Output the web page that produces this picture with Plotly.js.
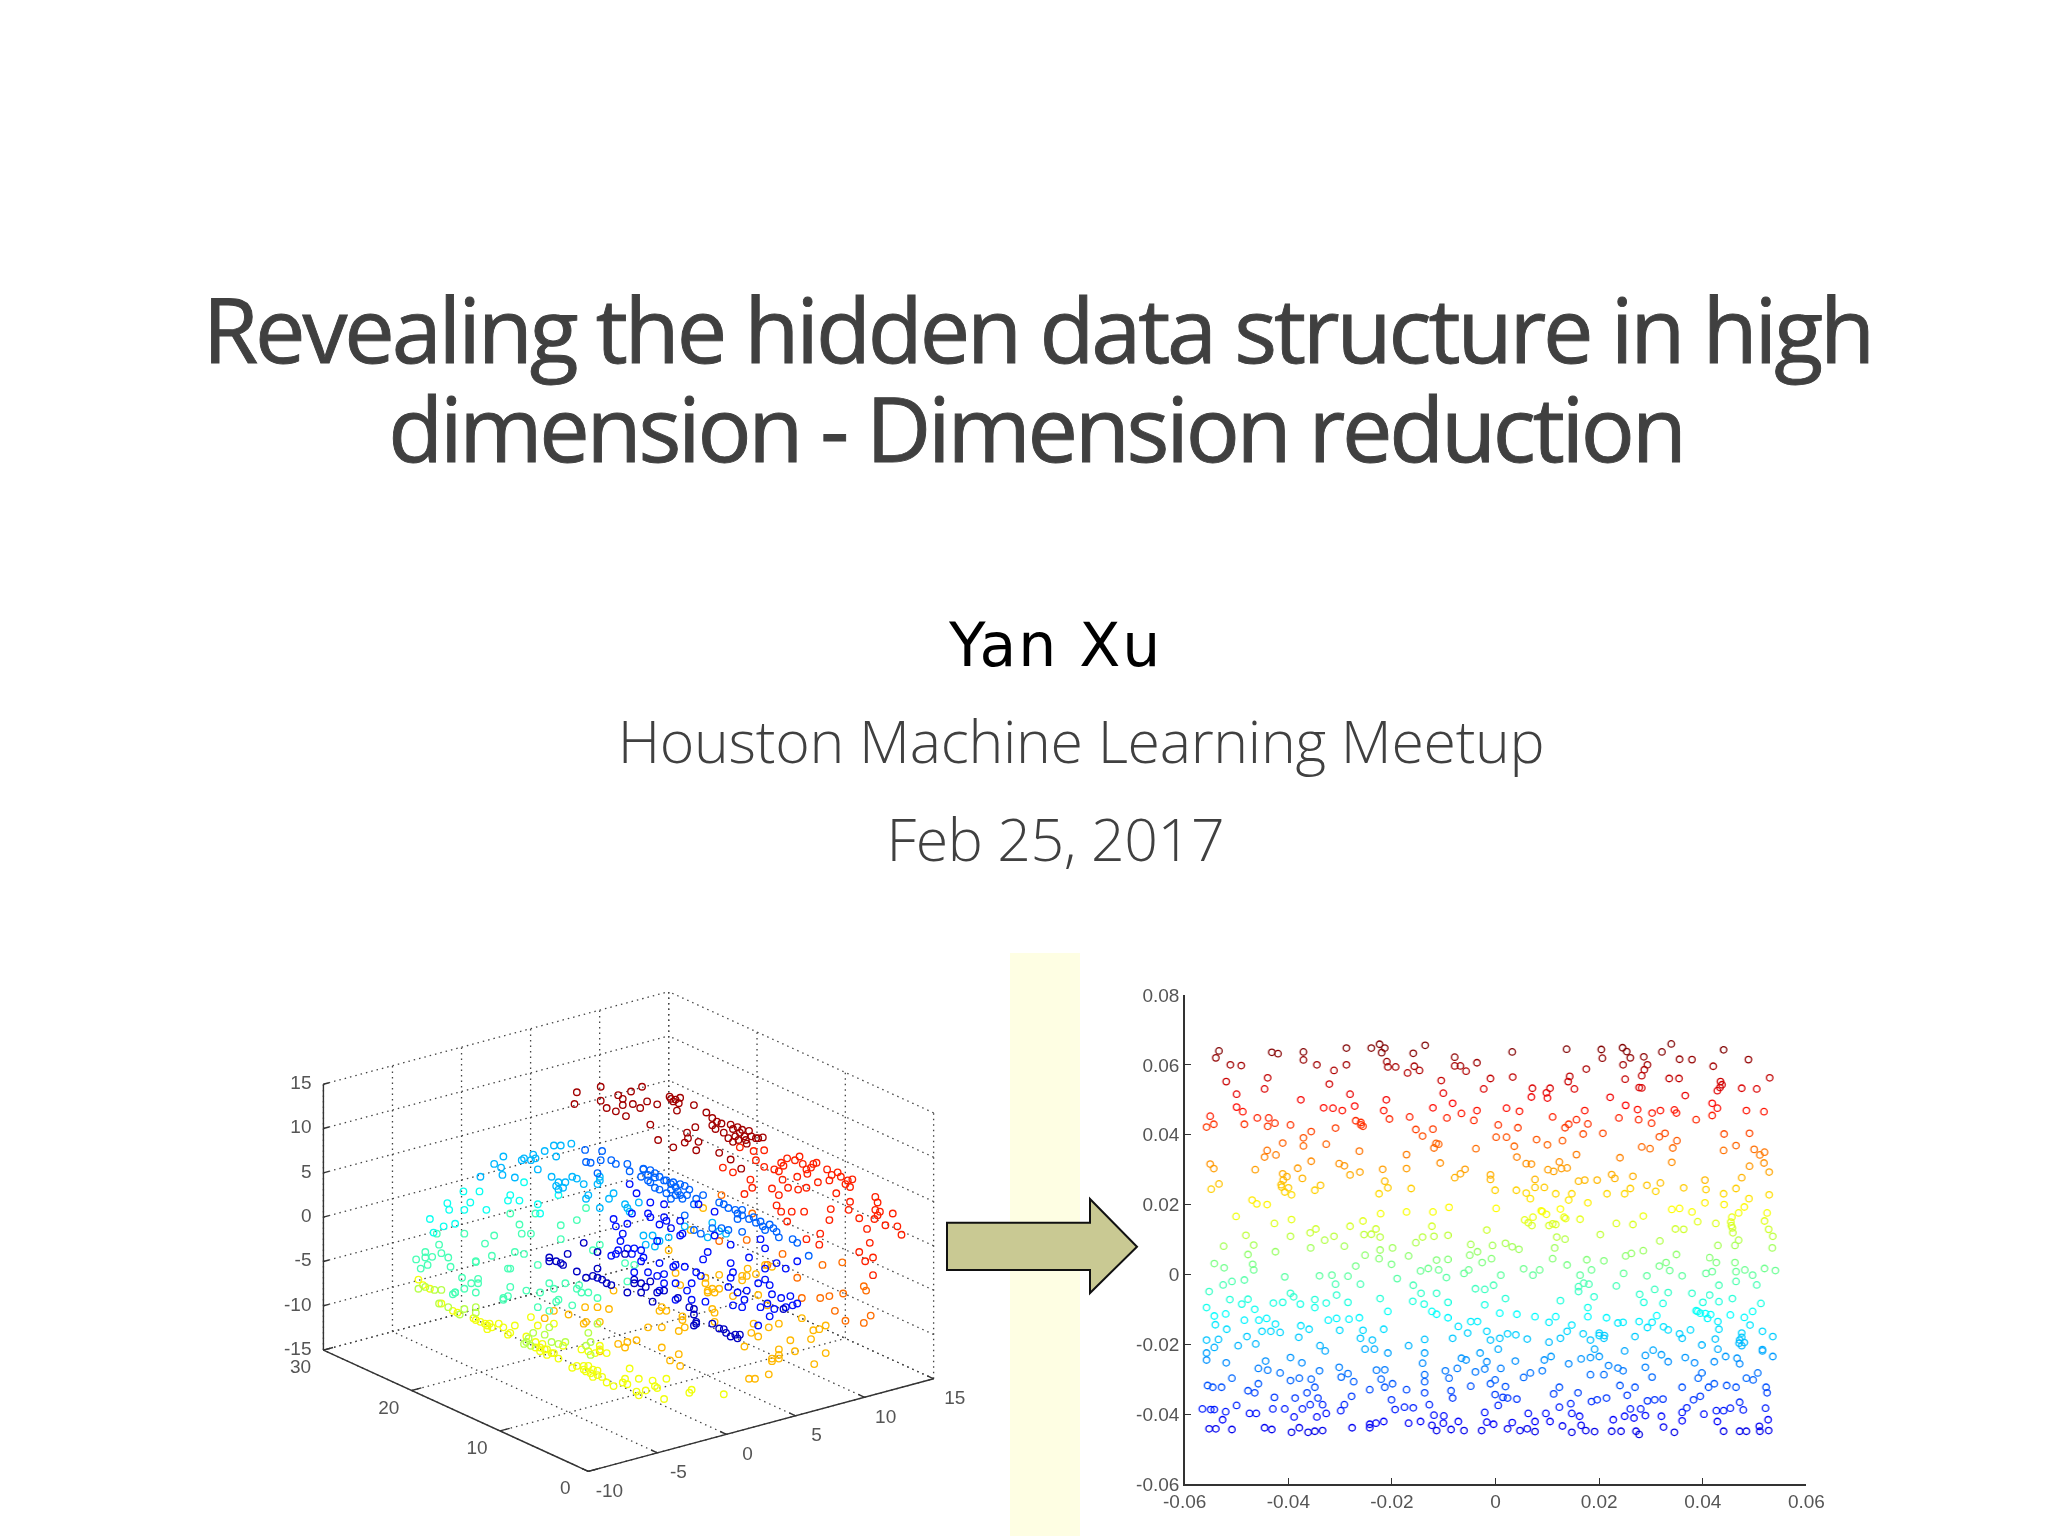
<!DOCTYPE html>
<html>
<head>
<meta charset="utf-8">
<script src="https://cdn.plot.ly/plotly-3.0.1.min.js"></script>
<style>
html,body{margin:0;padding:0;background:#fff}
#chart{width:2048px;height:1536px}
.annotation[data-index="0"] text{letter-spacing:-3.15px;stroke:#404040;stroke-width:.9px}
.annotation[data-index="1"] text{letter-spacing:-3.3px;stroke:#404040;stroke-width:.9px}
.annotation[data-index="2"] text{letter-spacing:2px}
.annotation[data-index="3"] text{letter-spacing:-.3px}
.annotation[data-index="4"] text{letter-spacing:-.4px}
.scatterlayer{filter:blur(.45px)}
.xtick text,.ytick text{filter:blur(.35px)}
</style>
</head>
<body>
<div id="chart"></div>
<script>
/* ---------- texts ---------- */
const titleLine1 = "Revealing the hidden data structure in high";
const titleLine2 = "dimension - Dimension reduction";
const authorText = "Yan Xu";
const meetupText = "Houston Machine Learning Meetup";
const dateText = "Feb 25, 2017";

/* ---------- 3D box ticks ---------- */
const rollXTicks = [-10,-5,0,5,10,15];
const rollYTicks = [0,10,20,30];
const rollZTicks = [-15,-10,-5,0,5,10,15];

/* ---------- embedded 2D scatter tick labels ---------- */
const embedXTicks = [-0.06,-0.04,-0.02,0,0.02,0.04,0.06];
const embedXLabels = ["-0.06","-0.04","-0.02","0","0.02","0.04","0.06"];
const embedYTicks = [-0.06,-0.04,-0.02,0,0.02,0.04,0.06,0.08];
const embedYLabels = ["-0.06","-0.04","-0.02","0","0.02","0.04","0.06","0.08"];

/* ---------- 3D roll: points as read in the view plane (u,v), one array per colour band ---------- */
const rollDarkRed = [[690,360],[685,392],[742,345],[742,383],[755,403],[780,368],[790,378],[790,395],[775,412],[797,425],[808,358],[832,345],[812,392],[828,403],[843,385],[865,393],[892,372],[905,380],[912,390],[908,410],[850,448],[867,490],[900,510],[925,497],[930,470],[948,455],[955,495],[950,518],[932,485],[945,395],[972,415],[985,430],[992,460],[1005,445],[1025,448],[1040,455],[1065,465],[1085,485],[1095,483],[1020,485],[1042,490],[1058,490],[1025,543],[1048,568],[1000,525],[1030,460],[1045,470],[1055,480],[1035,480],[1050,462],[1070,480],[1060,500],[985,450],[995,440],[900,385],[915,375],[895,378],[1080,485],[1010,470],[1030,495]];
const rollRed = [[1045,510],[1075,520],[1098,518],[1080,545],[1098,563],[1008,565],[1030,578],[1068,598],[1072,620],[1055,637],[1120,570],[1135,552],[1148,540],[1175,535],[1182,555],[1200,565],[1212,552],[1235,570],[1258,578],[1290,597],[1275,610],[1240,600],[1192,582],[1170,590],[1138,598],[1115,622],[1130,640],[1172,625],[1190,620],[1215,605],[1255,635],[1285,658],[1282,680],[1340,645],[1345,660],[1350,685],[1378,690],[1338,705],[1305,703],[1362,722],[1388,725],[1397,748],[1322,732],[1243,678],[1240,708],[1125,668],[1135,685],[1158,685],[1185,685],[1148,712],[1220,745],[1190,760],[1218,775],[1328,770],[1305,795],[1335,810],[1318,820],[1335,858],[1130,575],[1140,560],[1165,545],[1190,570],[1205,555],[1245,585],[1265,590],[1280,600],[1150,620],[1285,618],[1340,680],[1345,695]];
const rollOrangeRed = [[1005,640],[1072,690],[1000,765],[1060,762],[1225,830],[1268,823],[1170,865],[1138,800],[1105,830],[1180,920],[1220,920],[1240,915],[1270,908],[1315,888],[1320,900],[1252,955],[1330,968],[1275,982],[1315,988]];
const rollOrange = [[965,675],[938,735],[890,790],[905,852],[1000,857],[970,865],[1050,872],[1062,840],[975,900],[990,905],[915,885],[1030,915],[1085,912],[1105,940],[1180,975],[1232,995],[1205,1008],[1218,1005],[1130,990],[1108,1000],[1070,1015],[1085,1025],[1055,1052],[1155,1035],[1200,1032],[1130,1060],[1165,1065],[1232,1070],[1130,1085],[1115,1092],[1207,1100],[1108,1128],[1065,1140],[1078,1140],[985,950],[990,985],[920,980],[870,955],[885,955],[770,900],[760,950],[708,945],[735,945],[710,985],[740,985],[672,965],[640,955],[620,975],[845,1000],[875,1000],[912,1010],[820,1035],[795,1055],[780,1045],[875,1055],[912,1073],[893,1090],[915,1105],[985,895],[970,880],[975,905],[1000,895],[1075,990],[1060,860],[1100,830],[1115,835],[1130,1075],[1115,1085],[875,945],[990,960],[800,1040],[740,1065],[705,990],[920,970],[925,1000],[1050,860],[1080,855]];
const rollYellow = [[590,972],[605,995],[640,990],[465,975],[480,985],[495,995],[505,1000],[520,990],[540,1020],[555,995],[580,1025],[600,1040],[620,1060],[635,1070],[650,1085],[610,1055],[625,1075],[660,1050],[690,1105],[705,1115],[720,1125],[735,1118],[745,1135],[755,1150],[770,1160],[795,1140],[800,1155],[825,1140],[805,1112],[885,1140],[860,1160],[840,1172],[825,1185],[880,1195],[940,1170],[935,1178],[1010,1182],[715,1065],[740,1050],[755,1070],[730,1070],[700,1060],[430,960],[420,955],[395,935],[370,895],[355,885],[345,870],[470,980],[490,990],[500,990],[495,1005],[530,1000],[545,1015],[610,1065],[625,1060],[640,1070],[615,1045],[600,1055],[705,1105],[715,1105],[725,1115],[735,1130],[725,1135],[710,1120],[680,1110],[790,1150],[865,1165],[820,1175],[855,1145],[740,1060]];
const rollLime = [[345,895],[380,898],[395,898],[445,950],[470,945],[580,1040],[590,1050],[635,1040],[665,1040],[715,1015],[720,1040],[735,990],[585,1030],[595,1015],[620,1020],[650,1045],[710,1050],[720,1075],[360,890],[390,935],[410,945],[435,965],[470,960],[575,1045],[630,1000]];
const rollMint = [[340,815],[360,795],[375,808],[395,798],[410,810],[350,840],[365,830],[415,835],[470,820],[490,772],[505,805],[475,868],[460,880],[440,865],[445,895],[425,905],[470,905],[540,840],[555,795],[575,800],[605,830],[530,920],[545,890],[580,900],[610,905],[630,880],[665,880],[690,895],[715,905],[650,925],[680,940],[605,945],[630,955],[385,745],[390,775],[445,745],[510,750],[545,690],[565,720],[570,745],[590,745],[600,690],[655,722],[655,760],[690,708],[710,675],[740,775],[725,790],[795,825],[815,830],[800,875],[360,810],[425,905],[640,895],[700,905],[695,885],[735,920],[645,930],[530,925],[540,915],[470,822],[475,880],[420,910],[545,840]];
const rollAqua = [[370,705],[378,742],[400,725],[425,718],[408,662],[412,680],[445,680],[443,630],[478,630],[458,660],[493,680],[545,640],[540,655],[565,655],[605,665],[610,690],[650,640],[575,605]];
const rollCyan = [[480,590],[510,555],[530,535],[525,565],[528,585],[555,592],[575,540],[595,530],[605,570],[620,520],[640,505],[655,505],[678,500],[645,535],[635,590],[665,605],[680,590],[705,610],[645,615],[740,590],[735,610],[710,650],[740,675],[770,635],[795,665],[825,660],[805,685],[855,750],[870,765],[925,725],[570,545],[590,545],[600,540],[650,605],[660,620],[690,595],[715,640],[740,600],[800,675],[835,750],[860,780],[890,755],[840,775],[985,715],[1000,738],[760,650],[650,625],[1015,745],[975,755]];
const rollSky = [[708,517],[745,520],[742,545],[710,550],[720,552],[765,545],[775,555],[735,580],[800,555],[805,575],[830,590],[845,600],[835,570],[860,580],[880,600],[900,605],[915,610],[935,625],[905,640],[885,635],[920,650],[860,620],[965,640],[1000,660],[1020,675],[1040,690],[1065,705],[1080,715],[1095,725],[1110,720],[1125,740],[985,730],[1020,735],[945,665],[925,695],[945,735],[960,745],[1005,730],[1050,740],[1160,760],[1170,770],[1195,805],[835,568],[850,572],[845,585],[860,592],[870,590],[885,600],[895,610],[905,618],[910,630],[925,615],[895,625],[915,640],[850,605],[870,625],[895,650],[930,640],[950,650],[1035,680],[1050,695],[1075,700],[1090,712],[1100,735],[1118,730],[1040,705],[1010,665],[1050,680],[1130,755]];
const rollBlue = [[820,635],[805,610],[850,660],[845,690],[880,665],[885,710],[915,710],[955,665],[990,685],[770,705],[775,725],[800,718],[790,745],[785,765],[810,690],[880,700],[920,745],[915,750],[865,765],[775,800],[765,805],[810,800],[835,810],[830,820],[870,825],[905,830],[925,835],[950,850],[975,795],[965,815],[1025,825],[1030,850],[1025,865],[1065,810],[1100,785],[1100,840],[1125,825],[1145,840],[1170,820],[1090,760],[1025,775],[990,750],[1060,900],[1055,925],[1100,870],[1115,910],[1105,935],[1155,915],[1160,940],[1170,935],[1110,970],[1085,995],[1030,940],[1050,945],[970,930],[940,925],[880,855],[870,900],[905,925],[850,700],[870,720],[895,730],[800,785],[815,785],[830,790],[780,790],[845,850],[865,860],[880,880],[815,850],[900,835],[905,880],[940,880],[960,860],[1020,890],[1040,905],[1085,880],[1110,885],[1135,920],[1145,945],[1090,945],[1120,950],[930,900]];
const rollNavy = [[630,810],[645,820],[660,830],[670,800],[690,848],[710,865],[735,840],[735,865],[755,880],[765,885],[735,795],[705,770],[795,800],[815,870],[830,880],[850,875],[880,900],[800,905],[830,905],[855,930],[910,920],[935,945],[945,965],[950,990],[985,990],[1010,1005],[1025,1025],[1045,1020],[1040,1030],[1140,950],[945,995],[1000,1003],[630,820],[655,825],[725,860],[745,870],[815,880],[840,890],[865,905],[945,950],[950,985],[1015,1015],[1035,1020]];
/* colour value of each band, on the same scale as the embedded scatter (thousandths) */
const rollBandValues = [60,45,36,27,17,10,-3,-10,-20,-30,-40,-50];

/* ---------- embedded 2D scatter: [x,y] in thousandths, by height ---------- */
const embedTop = [[-53.4,64],[-54,62],[-51.2,60],[-49.1,59.8],[-52,55.2],[-44,56.3],[-43.2,63.6],[-42,63.2],[-37.1,63.7],[-37.1,61.4],[-34.5,60],[-31.2,58.4],[-28.8,64.8],[-28.8,60],[-24,64.8],[-22.4,65.9],[-21.4,64.8],[-22,63.5],[-21,60.9],[-20.8,59.4],[-19.3,59.4],[-17,57.7],[-15.9,63.3],[-15.7,59.6],[-14.7,58.4],[-13.6,65.6],[-10.5,55.5],[-7.9,62.2],[-7.9,59.7],[-6.8,59.7],[-5.7,58.2],[-3.6,60.6],[-1,56.1],[3.2,63.7],[3.3,56.5],[13.7,64.5],[14.3,56.7],[14,55.2],[17.5,58.8],[20.4,64.4],[20.6,61.9],[24.5,64.9],[25.3,63.8],[26,62],[24.6,60],[25,55.9],[28.6,62.3],[29.3,60],[28.7,58.6],[28.2,56.9],[32.1,63.7],[33.9,66],[33.5,56.1],[35.4,56.1],[35.5,61.6],[37.9,61.5],[42,59.6],[44,64.3],[48.8,61.5],[52.9,56.3],[43.4,55.2],[27.7,53.5],[43.7,54.3]];
const embedUpper = [[-55.8,42.2],[-54.4,43],[-55.1,45.3],[-50,51.6],[-50,47.9],[-48.8,46.6],[-48.5,43],[-46,44.8],[-43.8,44.8],[-44,42.4],[-42.6,43.3],[-44.6,53.1],[-37.6,50],[-39.6,42.8],[-41.1,37.6],[-37.1,39.1],[-35.6,40.9],[-37.1,36.8],[-32.1,54.5],[-33.2,47.7],[-31.4,47.6],[-29.6,46.9],[-27.2,48.2],[-28.1,51.6],[-30.9,41.9],[-32.7,37.3],[-27,44],[-25.6,42.4],[-21.1,50],[-21.6,46.9],[-20.5,44.5],[-16.6,45.1],[-15.4,41.5],[-14.1,39.6],[-12.1,47.7],[-12.1,41.6],[-10.1,51.9],[-8.3,49],[-9.4,44.8],[-6.6,46.1],[-4.2,44.1],[-3.6,46.9],[-2.3,53.1],[-11,37.3],[-11.9,36.2],[-3.8,36],[0.1,39.3],[0.5,42.8],[2.1,39.3],[2.1,47.6],[4.6,46.7],[4.3,42],[3.6,36.7],[7.1,53.3],[6.9,50.8],[9.8,52],[10.5,53.3],[10,50.5],[11,45.1],[13.4,42],[14.1,43],[15.6,44.3],[15.2,53.1],[12.9,38.3],[17.2,46.9],[17.8,43.1],[16.9,40.2],[7.9,38.6],[10,37.1],[20.7,40.4],[22.1,50.7],[23.8,44.8],[25.1,48.4],[27.4,47.2],[27.6,44.3],[28.2,53.4],[30.2,46.2],[31.8,46.9],[30.1,43.3],[31.6,39.4],[32.7,40.4],[28.2,36.5],[29.8,36],[34.5,47.1],[34.9,46.2],[36.6,51.2],[35,38.3],[34.2,36.2],[38.7,44.3],[41.8,49],[42.8,47.6],[41.8,45.5],[42.8,52.6],[47.5,53.3],[50.4,53.1],[48.4,46.9],[51.8,46.6],[44.1,40.2],[49,40.4],[46.4,36.9],[44,35.5],[-11.5,37.5],[-26,42.8],[-26,43.5],[43.3,53.5]];
const embedOrange = [[-55.1,31.6],[-54.4,30.3],[-54.9,24.4],[-53.4,25.9],[-46.4,30],[-44.6,33.6],[-44.1,35.5],[-42.4,34.2],[-38.2,30.4],[-37.3,27.5],[-35.6,32.4],[-41.1,28.8],[-41.4,25.7],[-40.7,23.6],[-39.4,22.8],[-40.3,28],[-47,21.3],[-46.1,20.2],[-44.1,20],[-34.9,24.1],[-33.8,25.5],[-30.2,31.7],[-29.2,31.1],[-28.1,28.5],[-26.2,29.3],[-26.3,35.3],[-22.5,23.1],[-21.8,30.1],[-21.4,26.7],[-20.8,24.8],[-16.3,24.6],[-17.2,30.3],[-17.2,34.3],[-10.7,31.9],[-7.9,27.7],[-6.8,28.8],[-5.9,30.1],[-1,28.5],[-1,27.2],[-0.1,24.1],[4,24.1],[4.1,33.6],[5.9,31.7],[6.9,31.6],[7.6,27.2],[7.6,24.9],[9.4,24.9],[5.9,23.3],[6.7,21.7],[10.1,30],[11.2,29.5],[12.3,32.2],[12.7,30.3],[13.8,30.5],[15.6,34.3],[11.6,23.1],[14.7,23.1],[14.1,21.3],[16,26.7],[17.2,27],[19.6,27],[17.8,20.5],[21.5,23.1],[22.4,28.6],[23,27.5],[24,33.4],[26.5,28.1],[24.9,23.1],[26,24.6],[29.2,25.5],[31.8,26.2],[30.9,23.8],[34,32.1],[36.3,24.8],[40.4,27],[40.6,24.3],[40.4,20.5],[44,23.1],[46.4,24.6],[44.1,20],[47.5,27.7],[49,31],[48.9,21.7],[51,34.2],[51.9,35],[49.9,35.8],[51.8,31.9],[52.8,29.3],[52.8,22.8],[-41,27],[-41.3,25],[-40,24.8]];
const embedYellow = [[-50.1,16.6],[-42.7,14.6],[-39.4,15.7],[-48.2,11.2],[-39.6,10.9],[-35.8,11.9],[-34.7,13],[-52.5,8.1],[-46.7,8.4],[-42.5,6.5],[-47.8,5.7],[-35.7,7.6],[-33,9.8],[-31.2,10.9],[-29.2,8.1],[-28.1,13.8],[-25.6,15.3],[-25.4,11.4],[-24,11.5],[-23.1,13],[-22.3,10.7],[-22.3,7],[-22.2,17.4],[-17.2,17.9],[-19.9,7.6],[-15.4,9.1],[-14.1,10.7],[-12.1,17.9],[-12.3,13.8],[-11.9,10.9],[-9.2,11.2],[-9,19.2],[-1.7,12.7],[-4.8,8.6],[-3.5,6.5],[-0.6,8.3],[0.1,18.9],[1.9,8.9],[3.2,7.9],[4.5,7.2],[6.3,14.8],[7.2,16.4],[8.8,18.2],[9.8,17.2],[10.3,14],[11.6,14.3],[12.5,18.7],[13.2,16.4],[11.8,10.7],[13.4,10.1],[11.4,7.6],[16.3,15.8],[20.2,11.4],[23.3,14.6],[26.5,14.3],[28.5,16.7],[31.7,9.6],[34,18.6],[35.5,18.9],[37.9,17.9],[34.7,13],[36.3,12.9],[39,15.1],[42.5,14.6],[42.9,8.3],[45.6,16.4],[45.7,13.3],[48,19.3],[46.9,17.6],[51.9,15.3],[52.4,17.6],[52.7,12.9],[53.5,10.9],[53.4,7.6],[46.9,9.8],[46.2,8.3],[25.1,5.3],[26.2,6],[28.5,6.8],[34.9,5.7],[5.6,15.6],[7,14],[9,18],[11,14.5],[13.5,16],[45.4,15],[45.5,14],[45.8,11.9]];
const embedGreen = [[-54.3,3.1],[-52.4,1.9],[-46.7,1.3],[-46.9,2.9],[-48.5,-1.6],[-50.9,-2],[-52.6,-3],[-55.3,-4.9],[-51.3,-7.2],[-49,-8.5],[-47.8,-7.1],[-55.8,-9.5],[-40.7,-0.7],[-39.6,-5.4],[-42.9,-8.2],[-41.1,-8],[-39,-6.4],[-37.7,-8.5],[-34.9,-7.2],[-34.9,-9.5],[-32.7,-8.2],[-34,-0.4],[-31.6,-0.2],[-30.9,-2.8],[-30.7,-5.9],[-28.5,-8],[-28.5,-0.5],[-27,2.4],[-26.1,-2.8],[-25.2,5.5],[-22.5,4.5],[-20.1,2.9],[-19,-1.2],[-22.3,-6.9],[-16.8,5.3],[-14.5,1],[-13,1.7],[-15.9,-3.1],[-14.4,-5.4],[-11.4,-5.4],[-11,1.3],[-11.4,4.1],[-9.2,4.3],[-9.5,-0.9],[-16,-7.7],[-13.8,-8.5],[-9.2,-8],[-5,5.5],[-2.6,3.4],[-0.8,4.5],[-6.1,0.3],[-5.2,1.3],[1,-0.2],[-0.4,-3.1],[-3.9,-4.1],[-2.1,-4.3],[-2.1,-8.7],[1.9,-6.9],[5.4,1.6],[7.2,-0.2],[8.5,1.3],[11,4.5],[13.8,2.7],[17.6,4.2],[18.5,1.3],[16.3,-0.2],[18,-2.8],[16,-4.9],[19,-6.4],[12.5,-7.5],[17.8,-9.5],[20.9,3.9],[24.7,0.3],[23.3,-3.3],[27.8,-5.7],[28.6,-8],[29.2,-0.4],[31.6,2.4],[32.9,3.4],[33.6,1.1],[36,-0.4],[30.7,-4.3],[33.3,-5.2],[32.3,-8.3],[37.9,-5.4],[41.3,4.8],[42.6,3.4],[40.6,0.3],[41.8,0.8],[43.1,-3.1],[41.3,-5.9],[43.1,-7.8],[40,-8],[46.2,3.4],[46.4,0.8],[46.4,-2],[48.1,1.3],[49.6,-0.2],[50.4,-3],[51.9,1.7],[54,1.1],[45.7,-6.9],[51.2,-8.3],[16,-3.5],[17,-2.5]];
const embedCyan = [[-54.3,-11.9],[-52.1,-11.3],[-54.1,-14.4],[-51.9,-15.7],[-46.5,-10],[-48.5,-13.1],[-45.7,-13.1],[-44.2,-12.6],[-42.5,-14.2],[-45.1,-16.3],[-43.4,-16.3],[-41.6,-16.6],[-48,-17.8],[-46.3,-19.9],[-49.7,-20.4],[-55.8,-18.8],[-53.5,-18.6],[-54.3,-20.9],[-55.8,-22.5],[-55.8,-24.5],[-38,-18],[-37.6,-14.7],[-36,-15.7],[-33.9,-20.4],[-32.9,-21.9],[-32.3,-13.1],[-30.7,-12.6],[-28.3,-12.8],[-26.3,-12.4],[-30.1,-16],[-25.6,-16],[-26.1,-18.3],[-23.8,-18.8],[-25.2,-21.4],[-23.4,-21.4],[-21.6,-15.7],[-20.8,-22.5],[-20.8,-10.6],[-16.8,-20.4],[-13.7,-18.6],[-13.7,-22.5],[-12.3,-10.6],[-11.4,-11.4],[-9.2,-12.4],[-7.2,-14.9],[-5.4,-16.8],[-8.3,-18.3],[-4.8,-13.5],[-3.5,-13.5],[-1.7,-16.3],[-1,-18.8],[0.8,-18.3],[2.3,-17],[3.9,-17.3],[0.8,-11.1],[4.1,-11.4],[6.1,-18.5],[0.5,-21.4],[7.6,-12.1],[10.3,-19.4],[10.3,-13.7],[11.6,-12.1],[12.5,-18.3],[14.7,-14.5],[13.8,-16.3],[16.9,-17],[17.8,-12.1],[20,-16.8],[20.9,-18.3],[18.3,-18.8],[19.1,-21.4],[21.4,-12.4],[23.6,-13.9],[24.6,-13.7],[26.9,-17.8],[27.7,-13.5],[29.3,-15.2],[30.2,-13.7],[31.1,-11.8],[32.4,-15],[33.3,-15.9],[30.4,-21.7],[35.5,-17],[36,-18.3],[37.6,-15.9],[38.7,-10.4],[39.5,-11.1],[40.9,-12.6],[42.9,-13.5],[43.1,-15.7],[45.3,-11.6],[49.6,-10.6],[48,-12.3],[49.1,-14.5],[47.5,-16.8],[47.1,-18.8],[47.5,-20.4],[51.5,-16.3],[53.5,-17.8],[39.8,-20.2],[42.4,-18.5],[42.9,-21.4],[44.4,-23.5],[51.5,-21.9],[53.5,-23.5],[24.9,-21.9],[28.9,-23.2],[32,-23],[39,-10.6],[40.5,-11.2],[41.5,-11.5],[20,-17.5],[21,-17.5],[47.5,-18],[48,-19.5],[47,-19.7],[51.5,-21.5]];
const embedSky = [[-52,-25.3],[-50.9,-29.7],[-55.6,-31.8],[-54.6,-32.3],[-52.9,-32.3],[-47.8,-33.3],[-46.5,-33.9],[-45.8,-31.3],[-45.8,-26.9],[-44.4,-24.8],[-44,-27.4],[-41.6,-28.2],[-39.6,-23.8],[-37.4,-25.3],[-39.6,-30.4],[-37.9,-29.7],[-35.6,-30],[-34,-27.6],[-34.9,-32.3],[-42.7,-35.2],[-30.2,-26.6],[-29.8,-29.4],[-28.5,-28.4],[-27.4,-30.7],[-23,-27.4],[-21.4,-27.3],[-22.1,-30],[-21.4,-32.3],[-19.9,-31.3],[-17.2,-33],[-24.3,-33],[-14.1,-25.4],[-13.7,-28.7],[-13.7,-30.7],[-13.7,-33.9],[-9.7,-27.6],[-9,-29.7],[-7.4,-26.9],[-6.6,-24],[-5.7,-24.5],[-3,-22.5],[-1.7,-25],[-2.1,-27.1],[-3.9,-27.9],[1,-26.9],[-1,-31.3],[-0.1,-30.2],[1.9,-32.1],[-4.8,-32],[3.8,-24.8],[5.4,-29.5],[6.7,-28.2],[9,-27.6],[9.4,-24.5],[10.7,-23.5],[14.1,-25.6],[12.3,-32.3],[16.5,-24.2],[18.3,-23.8],[20,-23.5],[18.3,-28.7],[20.9,-28.7],[21.8,-26.1],[23.6,-26.8],[24.6,-27.6],[24,-31.8],[26.9,-32.3],[28.9,-26.6],[30.2,-29.4],[33.3,-25],[38.4,-25.3],[36.6,-23.8],[42.2,-25],[39.8,-28.2],[39.1,-29.7],[36,-32.3],[41.1,-32.3],[42.2,-31.3],[44.6,-31.8],[46.4,-32.3],[46.6,-24],[47.1,-25.6],[48.4,-29.7],[49.7,-30.2],[50.6,-28.2],[52.2,-32.3]];
const embedBottom = [[-56.6,-38.5],[-54.3,-38.7],[-52.1,-39.3],[-50,-37.5],[-47.5,-39.8],[-46.2,-39.8],[-52.7,-41.6],[-55.3,-44.2],[-54,-44.2],[-50.9,-44.4],[-44.6,-43.9],[-43.2,-44.4],[-43,-38.5],[-40.7,-38.5],[-38.9,-40.8],[-38.7,-35.4],[-36.4,-33.9],[-37.3,-38.5],[-35.8,-37.3],[-34.3,-35.4],[-33.4,-37.3],[-34.5,-40.8],[-32.7,-39.8],[-39.4,-45.2],[-37.9,-43.9],[-36.2,-45.2],[-34.9,-44.9],[-33.4,-44.7],[-29.9,-39],[-29.2,-37.3],[-27.8,-34.9],[-27.7,-43.9],[-24.3,-42.9],[-23.1,-42.6],[-21.6,-42.1],[-24.3,-43.9],[-20.1,-35.9],[-19.4,-38.7],[-17.6,-38],[-15.9,-38.2],[-12.8,-37.3],[-11.9,-40.3],[-16.8,-42.6],[-14.5,-42.1],[-12.3,-43.2],[-11.4,-44.7],[-10.1,-42.6],[-8.6,-44.4],[-7.2,-42.1],[-6.1,-44.7],[-8.3,-35.4],[-8.6,-33.3],[-2.1,-39.5],[-2.7,-44.7],[-1.7,-42.3],[-0.4,-42.9],[0.5,-37.5],[-0.1,-34.4],[1.4,-35.2],[2.3,-35.4],[4.1,-35.7],[2.3,-44.2],[3.2,-42.4],[4.7,-44.7],[6.1,-44.2],[7.6,-45],[6.3,-39.8],[7.6,-42.1],[9.7,-39.8],[10.5,-42.1],[11.2,-34.2],[12.3,-38],[14.5,-37],[15.9,-33.9],[14.7,-39.8],[12.9,-43.4],[14.7,-45.2],[16.2,-40.6],[16.5,-43.2],[17.4,-44.7],[19.1,-45],[18.5,-36.4],[19.6,-35.9],[21.4,-35.4],[22.7,-41.6],[22.4,-44.9],[24.2,-44.9],[25.4,-34.6],[26,-38.5],[24.9,-40.6],[26.7,-41.1],[28,-38.5],[28.9,-40.4],[27.1,-44.9],[27.7,-45.8],[29.3,-36.2],[30.7,-35.9],[32.3,-35.7],[32,-40.6],[32.4,-43.7],[34.5,-45.2],[36,-39.5],[36,-41.9],[36.9,-38.2],[38.2,-35.9],[39.5,-34.9],[40.2,-40],[42.6,-39],[42.8,-42.1],[44,-44.9],[44,-39],[45.3,-38.3],[47.1,-36.6],[47.8,-38.8],[47.1,-44.9],[48.4,-44.9],[50.9,-43.5],[51,-44.9],[52.7,-44.7],[52.6,-41.6],[52.1,-38.3],[52.4,-33.9],[-55,-38.7],[-10,-40.5]];

/* ---------- helpers ---------- */
const W = 2048, H = 1536;
const px = v => v / W;
const py = v => 1 - v / H;
const jet = [[0,"#00008f"],[0.125,"#0000ff"],[0.375,"#00ffff"],[0.625,"#ffff00"],[0.875,"#ff0000"],[1,"#800000"]];
const colorRange = {cmin:-57, cmax:64};

/* view transform of the 3D box onto the view plane */
function project(x,y,z){
  return [715 + (x+10)*30.08 + y*(-19.23), 1392 + (x+10)*(-10.08) + y*(-11) + (z+15)*(-24.13)];
}
function addSeg(store,a,b){
  const p = project(a[0],a[1],a[2]), q = project(b[0],b[1],b[2]);
  store.u.push(p[0],q[0],null); store.v.push(p[1],q[1],null);
}
const grid = {u:[],v:[]}, frame = {u:[],v:[]};
rollXTicks.forEach(x=>{
  addSeg(grid,[x,30,-15],[x,30,15]);
  addSeg(grid,[x,0,-15],[x,30,-15]);
  addSeg(frame,[x,0,-15],[x,0.7,-15]);
});
rollYTicks.forEach(y=>{
  addSeg(grid,[15,y,-15],[15,y,15]);
  addSeg(grid,[-10,y,-15],[15,y,-15]);
  addSeg(frame,[-10,y,-15],[-9.3,y,-15]);
});
rollZTicks.forEach(z=>{
  addSeg(grid,[-10,30,z],[15,30,z]);
  addSeg(grid,[15,0,z],[15,30,z]);
  addSeg(frame,[-10,30,z],[-9.6,30,z]);
});
addSeg(frame,[-10,30,-15],[-10,30,15]);
addSeg(frame,[-10,30,-15],[-10,0,-15]);
addSeg(frame,[-10,0,-15],[15,0,-15]);

const labels = {u:[],v:[],t:[]};
rollXTicks.forEach(x=>{const p=project(x,0,-15);labels.u.push(p[0]+46);labels.v.push(p[1]+56);labels.t.push(String(x));});
rollYTicks.forEach(y=>{const p=project(-10,y,-15);labels.u.push(p[0]-50);labels.v.push(p[1]+50);labels.t.push(String(y));});
const zLabels = {u:[],v:[],t:[]};
rollZTicks.forEach(z=>{const p=project(-10,30,z);zLabels.u.push(p[0]-26);zLabels.v.push(p[1]);zLabels.t.push(String(z));});

const rollBands = [rollDarkRed,rollRed,rollOrangeRed,rollOrange,rollYellow,rollLime,rollMint,rollAqua,rollCyan,rollSky,rollBlue,rollNavy];
const embedBands = [embedTop,embedUpper,embedOrange,embedYellow,embedGreen,embedCyan,embedSky,embedBottom];

const traces = [];
const tickFont = {family:"Liberation Sans, Arial, sans-serif", size:19, color:"#555"};
traces.push({type:"scatter",mode:"lines",x:grid.u,y:grid.v,xaxis:"x2",yaxis:"y2",hoverinfo:"skip",showlegend:false,
  line:{color:"#444",width:1.3,dash:"1.5px,4px"}});
traces.push({type:"scatter",mode:"lines",x:frame.u,y:frame.v,xaxis:"x2",yaxis:"y2",hoverinfo:"skip",showlegend:false,
  line:{color:"#333",width:1.4}});
traces.push({type:"scatter",mode:"text",x:labels.u,y:labels.v,text:labels.t,textposition:"middle center",textfont:tickFont,xaxis:"x2",yaxis:"y2",hoverinfo:"skip",showlegend:false});
traces.push({type:"scatter",mode:"text",x:zLabels.u,y:zLabels.v,text:zLabels.t,textposition:"middle left",textfont:tickFont,xaxis:"x2",yaxis:"y2",hoverinfo:"skip",showlegend:false});

rollBands.forEach((band,i)=>{
  traces.push({type:"scatter",mode:"markers",x:band.map(p=>p[0]),y:band.map(p=>p[1]),xaxis:"x2",yaxis:"y2",showlegend:false,
    marker:{symbol:"circle-open",size:6.5,color:band.map(()=>rollBandValues[i]),colorscale:jet,cmin:colorRange.cmin,cmax:colorRange.cmax,line:{width:1.35}}});
});
embedBands.forEach(band=>{
  traces.push({type:"scatter",mode:"markers",x:band.map(p=>p[0]/1000),y:band.map(p=>p[1]/1000),xaxis:"x",yaxis:"y",showlegend:false,
    marker:{symbol:"circle-open",size:6.5,color:band.map(p=>p[1]),colorscale:jet,cmin:colorRange.cmin,cmax:colorRange.cmax,line:{width:1.3}}});
});

function txt(text,x,y,size,color,family,weight){
  return {text:text,xref:"paper",yref:"paper",x:px(x),y:py(y),xanchor:"center",yanchor:"middle",showarrow:false,
    font:{family:family,size:size,color:color,weight:weight}};
}

const layout = {
  width:W,height:H,margin:{l:0,r:0,t:0,b:0},paper_bgcolor:"#fff",plot_bgcolor:"rgba(0,0,0,0)",showlegend:false,
  xaxis:{domain:[px(1184.7),px(1806.4)],range:[-0.06,0.06],tickmode:"array",tickvals:embedXTicks,ticktext:embedXLabels,
    ticks:"inside",ticklen:6,tickcolor:"#333",showgrid:false,zeroline:false,showline:true,linecolor:"#333",linewidth:1.5,tickfont:tickFont,anchor:"y"},
  yaxis:{domain:[py(1484),py(995)],range:[-0.06,0.08],tickmode:"array",tickvals:embedYTicks,ticktext:embedYLabels,
    ticks:"inside",ticklen:6,tickcolor:"#333",showgrid:false,zeroline:false,showline:true,linecolor:"#333",linewidth:1.5,tickfont:tickFont,anchor:"x"},
  xaxis2:{domain:[px(260),px(980)],range:[0,1568],visible:false,anchor:"y2"},
  yaxis2:{domain:[py(1536),py(960)],range:[1568,0],visible:false,anchor:"x2"},
  shapes:[
    {type:"rect",layer:"below",xref:"paper",yref:"paper",x0:px(1010),x1:px(1080),y0:py(1536),y1:py(953),fillcolor:"#fefee3",line:{width:0}},
    {type:"path",layer:"above",xref:"paper",yref:"paper",
     path:"M "+[[947,1222.7],[1090,1222.7],[1090,1199],[1137,1246.7],[1090,1293],[1090,1270],[947,1270]].map(p=>px(p[0])+" "+py(p[1])).join(" L ")+" Z",
     fillcolor:"#c9c993",line:{color:"#111",width:2}}
  ],
  annotations:[
    txt(titleLine1,1037,328,90,"#404040","Open Sans, sans-serif",400),
    txt(titleLine2,1036,427,90,"#404040","Open Sans, sans-serif",400),
    txt(authorText,1055,645,60,"#000","DejaVu Sans, sans-serif",400),
    txt(meetupText,1081,740,59,"#404040","Open Sans, sans-serif",300),
    txt(dateText,1055,838,59,"#404040","Open Sans, sans-serif",300)
  ]
};
Plotly.newPlot("chart",traces,layout,{displayModeBar:false,staticPlot:true});
</script>
</body>
</html>
